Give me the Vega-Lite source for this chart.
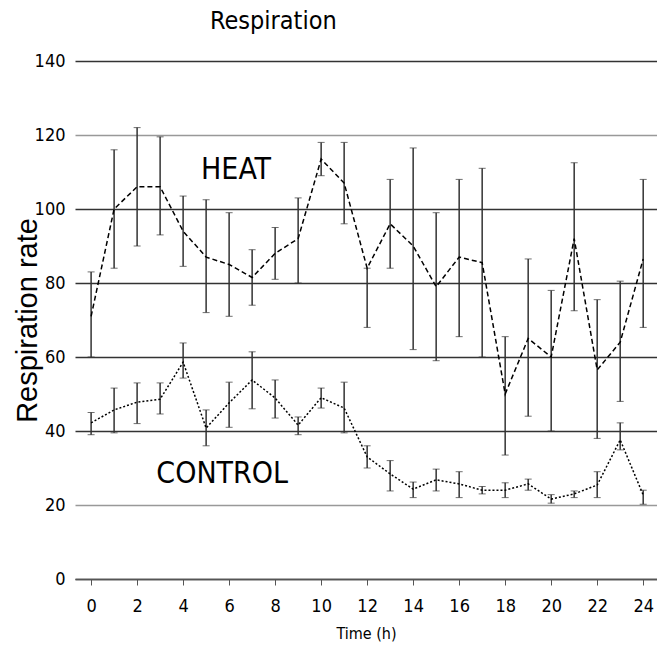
{
  "$schema": "https://vega.github.io/schema/vega-lite/v6.json",
  "width": 582,
  "height": 518,
  "autosize": {"type": "none"},
  "padding": {"left": 75, "top": 61, "right": 0, "bottom": 73},
  "background": "white",
  "title": {"text": "Respiration", "anchor": "start", "frame": "group", "dx": 135, "offset": 18, "fontSize": 25, "fontWeight": "normal", "font": "DejaVu Sans Condensed", "color": "#000"},
  "config": {"view": {"stroke": null}},
  "datasets": {
    "resp": [
      {"t": 0, "group": "HEAT", "v": 71, "lo": 60, "hi": 83},
      {"t": 1, "group": "HEAT", "v": 100, "lo": 84, "hi": 116},
      {"t": 2, "group": "HEAT", "v": 106, "lo": 90, "hi": 122},
      {"t": 3, "group": "HEAT", "v": 106, "lo": 93, "hi": 119.5},
      {"t": 4, "group": "HEAT", "v": 94, "lo": 84.5, "hi": 103.5},
      {"t": 5, "group": "HEAT", "v": 87, "lo": 72, "hi": 102.5},
      {"t": 6, "group": "HEAT", "v": 85, "lo": 71, "hi": 99},
      {"t": 7, "group": "HEAT", "v": 81.5, "lo": 74, "hi": 89},
      {"t": 8, "group": "HEAT", "v": 88, "lo": 81, "hi": 95},
      {"t": 9, "group": "HEAT", "v": 92, "lo": 80, "hi": 103},
      {"t": 10, "group": "HEAT", "v": 113.5, "lo": 109, "hi": 118},
      {"t": 11, "group": "HEAT", "v": 107, "lo": 96, "hi": 118},
      {"t": 12, "group": "HEAT", "v": 84, "lo": 68, "hi": 84},
      {"t": 13, "group": "HEAT", "v": 96, "lo": 84, "hi": 108},
      {"t": 14, "group": "HEAT", "v": 90, "lo": 62, "hi": 116.5},
      {"t": 15, "group": "HEAT", "v": 79, "lo": 59, "hi": 99},
      {"t": 16, "group": "HEAT", "v": 87, "lo": 65.5, "hi": 108},
      {"t": 17, "group": "HEAT", "v": 85.5, "lo": 60, "hi": 111},
      {"t": 18, "group": "HEAT", "v": 50, "lo": 33.5, "hi": 65.5},
      {"t": 19, "group": "HEAT", "v": 65, "lo": 44, "hi": 86.5},
      {"t": 20, "group": "HEAT", "v": 60, "lo": 40, "hi": 78},
      {"t": 21, "group": "HEAT", "v": 92, "lo": 72.5, "hi": 112.5},
      {"t": 22, "group": "HEAT", "v": 56.5, "lo": 38, "hi": 75.5},
      {"t": 23, "group": "HEAT", "v": 64, "lo": 48, "hi": 80.5},
      {"t": 24, "group": "HEAT", "v": 86.5, "lo": 68, "hi": 108},
      {"t": 0, "group": "CONTROL", "v": 42.2, "lo": 39, "hi": 45},
      {"t": 1, "group": "CONTROL", "v": 45.7, "lo": 39.5, "hi": 51.6},
      {"t": 2, "group": "CONTROL", "v": 47.8, "lo": 42, "hi": 53},
      {"t": 3, "group": "CONTROL", "v": 48.6, "lo": 44.6, "hi": 53},
      {"t": 4, "group": "CONTROL", "v": 58.6, "lo": 54.3, "hi": 63.8},
      {"t": 5, "group": "CONTROL", "v": 40.8, "lo": 36, "hi": 45.7},
      {"t": 6, "group": "CONTROL", "v": 47.6, "lo": 41, "hi": 53.2},
      {"t": 7, "group": "CONTROL", "v": 53.8, "lo": 46, "hi": 61.4},
      {"t": 8, "group": "CONTROL", "v": 48.9, "lo": 43.5, "hi": 53.8},
      {"t": 9, "group": "CONTROL", "v": 41.6, "lo": 39, "hi": 43.8},
      {"t": 10, "group": "CONTROL", "v": 49, "lo": 46.2, "hi": 51.6},
      {"t": 11, "group": "CONTROL", "v": 46.2, "lo": 39.5, "hi": 53.2},
      {"t": 12, "group": "CONTROL", "v": 33, "lo": 30, "hi": 36},
      {"t": 13, "group": "CONTROL", "v": 28.4, "lo": 23.8, "hi": 32},
      {"t": 14, "group": "CONTROL", "v": 24.3, "lo": 22, "hi": 26.2},
      {"t": 15, "group": "CONTROL", "v": 26.8, "lo": 23.8, "hi": 29.7},
      {"t": 16, "group": "CONTROL", "v": 25.7, "lo": 22, "hi": 29},
      {"t": 17, "group": "CONTROL", "v": 24, "lo": 23, "hi": 25},
      {"t": 18, "group": "CONTROL", "v": 24, "lo": 22, "hi": 26},
      {"t": 19, "group": "CONTROL", "v": 25.7, "lo": 24, "hi": 27},
      {"t": 20, "group": "CONTROL", "v": 21.6, "lo": 20.5, "hi": 22.8},
      {"t": 21, "group": "CONTROL", "v": 23, "lo": 22, "hi": 23.8},
      {"t": 22, "group": "CONTROL", "v": 25.4, "lo": 22, "hi": 29},
      {"t": 23, "group": "CONTROL", "v": 37.6, "lo": 34.9, "hi": 42.2},
      {"t": 24, "group": "CONTROL", "v": 22.7, "lo": 20.2, "hi": 24}
    ],
    "labels": [
      {"label": "HEAT", "t": 6.3, "v": 110.5},
      {"label": "CONTROL", "t": 5.7, "v": 28.4}
    ]
  },
  "layer": [
    {
      "data": {"name": "resp"},
      "mark": {"type": "errorbar", "ticks": {"size": 7, "color": "#333"}, "rule": {"color": "#333", "strokeWidth": 1.5}},
      "encoding": {
        "x": {"field": "t", "type": "quantitative", "scale": {"domain": [-0.7, 24.6], "nice": false, "zero": false},
          "axis": {"values": [0,1,2,3,4,5,6,7,8,9,10,11,12,13,14,15,16,17,18,19,20,21,22,23,24],
            "labelExpr": "datum.value % 2 == 0 ? datum.label : ''", "grid": false, "ticks": true, "tickSize": 6, "tickColor": "#555",
            "domain": true, "domainColor": "#555", "domainWidth": 1.5, "labelFontSize": 18, "labelFont": "Liberation Sans Narrow, DejaVu Sans Condensed, Liberation Sans",
            "labelColor": "#000", "labelPadding": 12, "title": "Time (h)", "titleFontSize": 16, "titleFontWeight": "normal",
            "titleFont": "Liberation Sans Narrow, DejaVu Sans Condensed, Liberation Sans", "titleColor": "#000", "titleY": 54, "titleBaseline": "middle"}},
        "y": {"field": "lo", "type": "quantitative", "scale": {"domain": [0, 140], "nice": false},
          "axis": {"values": [0,20,40,60,80,100,120,140], "grid": true,
            "gridColor": {"condition": {"test": "datum.value == 120 || datum.value == 20", "value": "#999"}, "value": "#333"},
            "gridWidth": 1.5, "ticks": false, "domain": false, "labelFontSize": 18, "labelColor": "#000",
            "labelFont": "Liberation Sans Narrow, DejaVu Sans Condensed, Liberation Sans", "labelPadding": 10,
            "title": "Respiration rate", "titleFontSize": 29, "titleFontWeight": "normal", "titleFont": "Liberation Sans", "titleColor": "#000",
            "titleX": -48, "titleY": 259, "titleAngle": -90, "titleAlign": "center", "titleBaseline": "middle"}},
        "y2": {"field": "hi"}
      }
    },
    {
      "data": {"name": "resp"},
      "mark": {"type": "line", "color": "#000", "strokeWidth": 1.5},
      "encoding": {
        "x": {"field": "t", "type": "quantitative"},
        "y": {"field": "v", "type": "quantitative"},
        "detail": {"field": "group"},
        "strokeDash": {"field": "group", "type": "nominal", "scale": {"domain": ["HEAT", "CONTROL"], "range": [[5, 3], [2, 2]]}, "legend": null}
      }
    },
    {
      "data": {"name": "labels"},
      "mark": {"type": "text", "fontSize": 30, "font": "Liberation Sans Narrow, DejaVu Sans Condensed, Liberation Sans", "color": "#000"},
      "encoding": {
        "x": {"field": "t", "type": "quantitative"},
        "y": {"field": "v", "type": "quantitative"},
        "text": {"field": "label"}
      }
    }
  ]
}
